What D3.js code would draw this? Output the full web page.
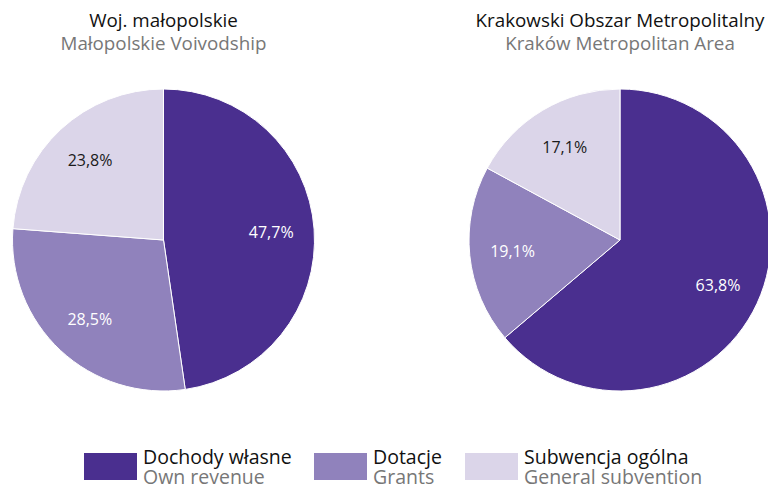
<!DOCTYPE html>
<html>
<head>
<meta charset="utf-8">
<script src="https://cdn.jsdelivr.net/npm/d3@7"></script>
<style>
  body { margin: 0; background: #fff; }
  text { font-family: "Open Sans", "Noto Sans", sans-serif; }
</style>
</head>
<body>
<div id="chart"></div>
<script>
// Revenue structure: region vs metropolitan area
const categoriesPl = ["Dochody własne", "Dotacje", "Subwencja ogólna"];
const categoriesEn = ["Own revenue", "Grants", "General subvention"];
const malopolskieValues = [47.7, 28.5, 23.8];
const metroValues = [63.8, 19.1, 17.1];
const titlesPl = ["Woj. małopolskie", "Krakowski Obszar Metropolitalny"];
const titlesEn = ["Małopolskie Voivodship", "Kraków Metropolitan Area"];

const width = 768;
const height = 487;
const radius = 151;

const colors = ["#4a2f8f", "#9082bc", "#dbd5e9"];
const labelColors = ["#fff", "#fff", "#1a1a1a"];

const svg = d3.select("#chart")
              .append("svg")
              .attr("width", width)
              .attr("height", height);

const pie = d3.pie().sort(null).value(d => d);
const arc = d3.arc().innerRadius(0).outerRadius(radius);
const labelArc = d3.arc().innerRadius(108).outerRadius(108);

const fmt = v => d3.format(".1f")(v).replace(".", ",") + "%";

const centers = [163.5, 620];
[malopolskieValues, metroValues].forEach((values, i) => {
  const g = svg.append("g")
               .attr("transform", `translate(${centers[i]},240)`);

  g.selectAll("path")
   .data(pie(values))
   .enter()
   .append("path")
   .attr("d", arc)
   .attr("fill", (d, j) => colors[j])
   .attr("stroke", "#fff")
   .attr("stroke-width", 1);

  g.selectAll("text.pct")
   .data(pie(values))
   .enter()
   .append("text")
   .attr("class", "pct")
   .attr("transform", d => `translate(${labelArc.centroid(d)})`)
   .attr("text-anchor", "middle")
   .attr("dy", "0.35em")
   .attr("font-size", 16)
   .attr("fill", (d, j) => labelColors[j])
   .text(d => fmt(d.value));

  svg.append("text")
     .attr("x", centers[i])
     .attr("y", 27)
     .attr("text-anchor", "middle")
     .attr("font-size", 18.8)
     .attr("fill", "#111")
     .text(titlesPl[i]);

  svg.append("text")
     .attr("x", centers[i])
     .attr("y", 50)
     .attr("text-anchor", "middle")
     .attr("font-size", 18.8)
     .attr("fill", "#777")
     .text(titlesEn[i]);
});

// legend
const legendX = [84, 314, 465];
const legend = svg.append("g")
                  .selectAll("g")
                  .data(categoriesPl)
                  .enter()
                  .append("g")
                  .attr("transform", (d, i) => `translate(${legendX[i]},453)`);

legend.append("rect")
      .attr("width", 53)
      .attr("height", 27)
      .attr("fill", (d, i) => colors[i]);

legend.append("text")
      .attr("x", 59)
      .attr("y", 11)
      .attr("font-size", 19.5)
      .attr("fill", "#111")
      .text(d => d);

legend.append("text")
      .attr("x", 59)
      .attr("y", 31)
      .attr("font-size", 19.5)
      .attr("fill", "#777")
      .text((d, i) => categoriesEn[i]);
</script>
</body>
</html>
